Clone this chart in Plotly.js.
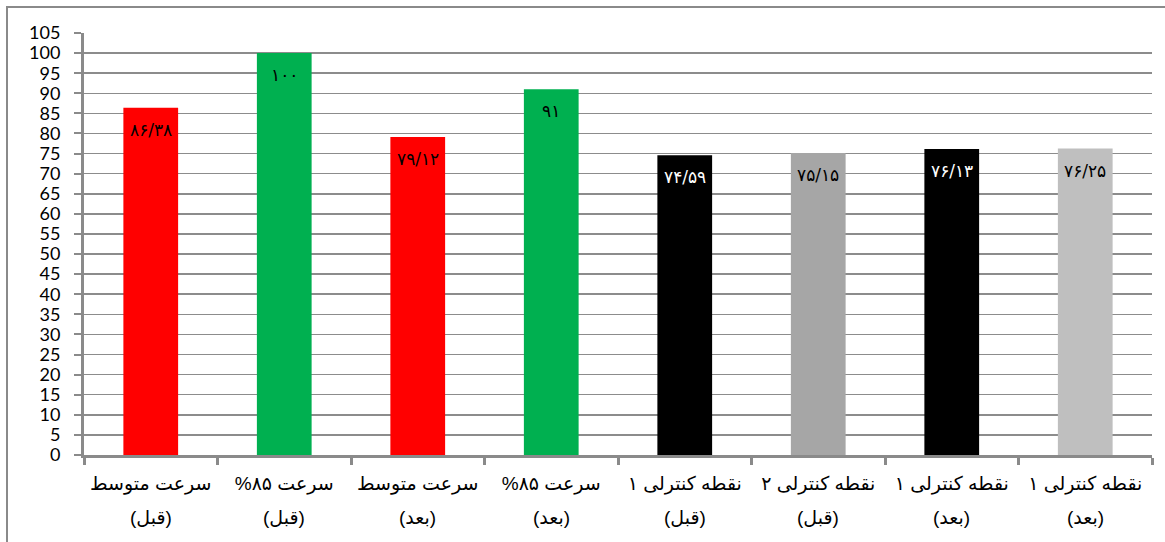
<!DOCTYPE html>
<html>
<head>
<meta charset="utf-8">
<script src="https://cdn.plot.ly/plotly-3.0.1.min.js"></script>
<style>
html,body{margin:0;padding:0;background:#fff;}
#wrap{position:relative;width:1165px;height:542px;}
#chart{position:absolute;left:0;top:0;width:1165px;height:542px;}
#frame{position:absolute;left:6px;top:6px;width:1165px;height:560px;border-left:2px solid #8a8a8a;border-top:2px solid #8a8a8a;pointer-events:none;}
</style>
</head>
<body>
<div id="wrap">
<div id="chart"></div>
<div id="frame"></div>
</div>
<script>
// categories (line 1 / line 2)
const catTitles = ["سرعت متوسط", "سرعت ۸۵%", "سرعت متوسط", "سرعت ۸۵%", "نقطه کنترلی ۱", "نقطه کنترلی ۲", "نقطه کنترلی ۱", "نقطه کنترلی ۱"];
const catPhases = ["(قبل)", "(قبل)", "(بعد)", "(بعد)", "(قبل)", "(قبل)", "(بعد)", "(بعد)"];
const values = [86.38, 100, 79.12, 91, 74.59, 75.15, 76.13, 76.25];
const barColors = ["#FF0000", "#00B050", "#FF0000", "#00B050", "#000000", "#A6A6A6", "#000000", "#BFBFBF"];
const labelColors = ["#000000", "#000000", "#000000", "#000000", "#FFFFFF", "#000000", "#FFFFFF", "#000000"];
const yTicks = [0,5,10,15,20,25,30,35,40,45,50,55,60,65,70,75,80,85,90,95,100,105];

const RLM = "\u200F";
const cats = catTitles.map((t, i) => "c" + i);
const tickText = catTitles.map(t => RLM + t + RLM);

function toPersian(v) {
  const d = "۰۱۲۳۴۵۶۷۸۹";
  let s = (Math.round(v * 100) / 100).toString().replace(".", "/");
  return s.replace(/[0-9]/g, c => d[+c]);
}

const trace = {
  type: "bar",
  x: cats,
  y: values,
  marker: {color: barColors, line: {width: 0}},
  width: 0.41,
  hoverinfo: "none"
};

const valueLabels = values.map((v, i) => ({
  x: cats[i], y: v, xref: "x", yref: "y",
  text: toPersian(v),
  showarrow: false,
  yshift: -22,
  font: {family: "DejaVu Sans", size: 17, color: labelColors[i]}
}));

const phaseLabels = catPhases.map((p, i) => ({
  x: cats[i], y: 0, xref: "x", yref: "y",
  text: RLM + p + RLM,
  showarrow: false,
  yshift: -62,
  font: {family: "Liberation Sans, DejaVu Sans", size: 19, color: "#000"}
}));

const layout = {
  width: 1165, height: 542,
  margin: {l: 84, r: 13, t: 33, b: 87},
  paper_bgcolor: "#ffffff",
  plot_bgcolor: "#ffffff",
  showlegend: false,
  bargap: 0.59,
  xaxis: {
    type: "category",
    tickvals: cats,
    ticktext: tickText,
    tickson: "boundaries",
    ticks: "outside",
    ticklen: 7,
    tickwidth: 3,
    tickcolor: "#8a8a8a",
    showline: true,
    linecolor: "#8a8a8a",
    linewidth: 3,
    showgrid: false,
    zeroline: false,
    ticklabelstandoff: 9,
    tickfont: {family: "Liberation Sans, DejaVu Sans", size: 19, color: "#000"},
    fixedrange: true
  },
  yaxis: {
    range: [0, 105],
    tickvals: yTicks,
    ticktext: yTicks.map(String),
    ticks: "outside",
    ticklen: 7,
    tickwidth: 2,
    tickcolor: "#8a8a8a",
    showline: true,
    linecolor: "#8a8a8a",
    linewidth: 3,
    showgrid: true,
    gridcolor: "#8c8c8c",
    gridwidth: 1.5,
    zeroline: false,
    ticklabelstandoff: 10,
    tickfont: {family: "Lato, Carlito, sans-serif", size: 18, color: "#000"},
    fixedrange: true
  },
  annotations: valueLabels.concat(phaseLabels)
};

Plotly.newPlot("chart", [trace], layout, {displayModeBar: false, staticPlot: true});
</script>
</body>
</html>
